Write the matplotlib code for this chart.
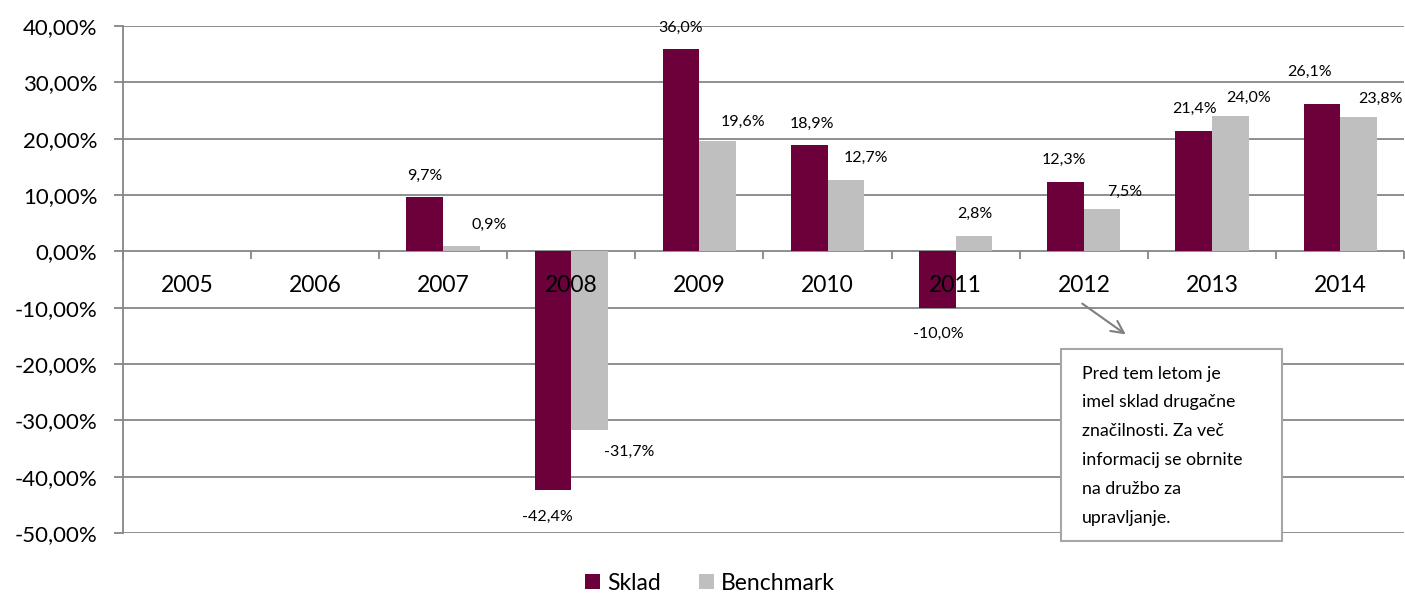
import numpy as np
import matplotlib
matplotlib.use("Agg")
import matplotlib.pyplot as plt
from matplotlib.patches import Rectangle

plt.rcParams['font.family'] = ['Lato', 'DejaVu Sans']

years = ["2005", "2006", "2007", "2008", "2009", "2010", "2011", "2012", "2013", "2014"]
sklad = [np.nan, np.nan, 9.7, -42.4, 36.0, 18.9, -10.0, 12.3, 21.4, 26.1]
benchmark = [np.nan, np.nan, 0.9, -31.7, 19.6, 12.7, 2.8, 7.5, 24.0, 23.8]
yticks = [40, 30, 20, 10, 0, -10, -20, -30, -40, -50]
note = ("Pred tem letom je\nimel sklad drugačne\nznačilnosti. Za več\n"
        "informacij se obrnite\nna družbo za\nupravljanje.")

# label offsets in pixels (dx, dy) relative to bar end, like the hand-moved Excel labels
sklad_off = [None, None, (0, 21), (-6, -27), (0, 21), (3, 21), (1, -26), (-2, 22), (1, 22), (-12, 32)]
bench_off = [None, None, (28, 21), (40, -22), (25, 19), (20, 22), (1, 22), (23, 17), (18, 18), (22, 18)]

C_SKLAD = "#6C003B"
C_BENCH = "#BFBFBF"
C_GRID = "#868686"

fig = plt.figure(figsize=(14.05, 5.96), dpi=100)
ax = fig.add_axes([122.7 / 1405, 63 / 596, 1281.5 / 1405, 507 / 596])

x = np.arange(len(years))
w = 1 / 3.5
ax.bar(x - w / 2, sklad, w, color=C_SKLAD, zorder=2, label="Sklad")
ax.bar(x + w / 2, benchmark, w, color=C_BENCH, zorder=2, label="Benchmark")

ax.set_xlim(-0.5, len(years) - 0.5)
ax.set_ylim(-50, 40)
ax.set_yticks(yticks)
ax.set_yticklabels([f"{v:.2f}".replace(".", ",") + "%" for v in yticks], fontsize=16)
ax.yaxis.grid(True, color=C_GRID, lw=1.3)
ax.set_axisbelow(True)
ax.tick_params(axis="y", length=6.3, color=C_GRID, width=1.3, pad=12)

for s in ["top", "right"]:
    ax.spines[s].set_visible(False)
ax.spines["left"].set_color(C_GRID)
ax.spines["left"].set_linewidth(1.3)
ax.spines["bottom"].set_position(("data", 0))
ax.spines["bottom"].set_visible(False)

ax.set_xticks(x)
ax.set_xticklabels([])
ax.tick_params(axis="x", which="major", length=0)
ax.set_xticks(np.arange(len(years) + 1) - 0.5, minor=True)
ax.tick_params(axis="x", which="minor", length=5.8, color=C_GRID, width=1.3, direction="out")

for i, yr in enumerate(years):
    ax.annotate(yr, (i, 0), xytext=(0, -34), textcoords="offset pixels",
                ha="center", va="center", fontsize=16.5, zorder=5)

def fmt(v):
    return f"{v:.1f}".replace(".", ",") + "%"

for i in range(len(years)):
    for vals, offs, dx in ((sklad, sklad_off, -w / 2), (benchmark, bench_off, w / 2)):
        v = vals[i]
        if np.isnan(v):
            continue
        ox, oy = offs[i]
        ax.annotate(fmt(v), (i + dx, v), xytext=(ox, oy), textcoords="offset pixels",
                    ha="center", va="center", fontsize=11.5, zorder=5)

# note box with arrow
fig.add_artist(Rectangle((1060.7 / 1405, 1 - 541 / 596), 221 / 1405, 191.7 / 596,
                         transform=fig.transFigure, facecolor="white",
                         edgecolor="#A6A6A6", lw=1.5, zorder=6))
fig.text(1081.7 / 1405, 1 - 446 / 596, note, ha="left", va="center",
         fontsize=12.8, linespacing=2.0, zorder=7)
ax.annotate("", xy=(1128, 596 - 336), xytext=(1080, 596 - 302),
            xycoords="figure pixels", textcoords="figure pixels",
            arrowprops=dict(arrowstyle="->", color="#7F7F7F", lw=1.5, mutation_scale=22))

fig.legend(loc="center", bbox_to_anchor=(710 / 1405, 1 - 583 / 596), ncol=2,
           frameon=False, fontsize=16.5, handlelength=0.65, handleheight=0.65,
           handletextpad=0.3, columnspacing=1.7)

fig.savefig("out.png", dpi=100)
